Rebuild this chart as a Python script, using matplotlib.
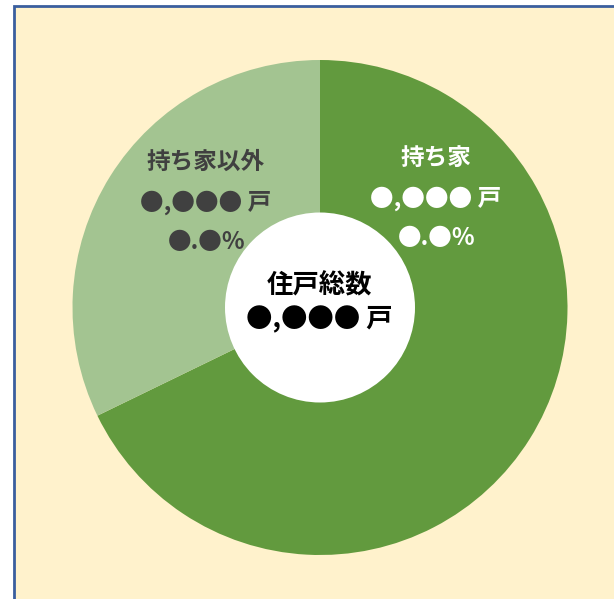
import matplotlib
matplotlib.use('Agg')
import matplotlib.pyplot as plt
from matplotlib.patches import Circle, Rectangle

plt.rcParams['font.family'] = ['Noto Sans CJK JP', 'DejaVu Sans']

# 持ち家 / 持ち家以外 (share)
labels = ['持ち家', '持ち家以外']
values = [67.8, 32.2]
counts = ['●,●●● 戸', '●,●●● 戸']
shares = ['●.●%', '●.●%']
total_label = '住戸総数'
total_count = '●,●●● 戸'

colors = ['#629A3E', '#A3C491']
text_colors = ['white', '#404040']

W, H = 614, 599
fig = plt.figure(figsize=(W / 100, H / 100), dpi=100)
fig.patch.set_facecolor('white')
ax = fig.add_axes([0, 0, 1, 1])

# panel background with blue frame (runs off the right and bottom edges)
ax.add_patch(Rectangle((14, -20), W + 20, H - 6 + 20, facecolor='#FFF2CC',
                       edgecolor='#3A5E9E', linewidth=2))

cx, cy, r = 320, H - 307.5, 247.5
ax.pie(values, colors=colors, startangle=90, counterclock=False,
       center=(cx, cy), radius=r, frame=True,
       wedgeprops=dict(linewidth=0))
ax.set_xlim(0, W)
ax.set_ylim(0, H)
ax.set_aspect('equal')
ax.axis('off')
ax.add_patch(Circle((cx, cy), 95, facecolor='white', edgecolor='none'))

# wedge labels
pos = [(436, 158), (206, 162)]
for i, (x, y) in enumerate(pos):
    ax.text(x, H - y, labels[i], ha='center', va='center', fontsize=17,
            fontweight='bold', color=text_colors[i])
    ax.text(x, H - y - 41, counts[i], ha='center', va='center', fontsize=17,
            fontweight='bold', color=text_colors[i])
    ax.text(x + 1, H - y - 80, shares[i], ha='center', va='center', fontsize=17,
            fontweight='bold', color=text_colors[i])

ax.text(cx - 1, H - 286, total_label, ha='center', va='center', fontsize=19,
        fontweight='bold', color='black')
ax.text(cx - 1, H - 320, total_count, ha='center', va='center', fontsize=19,
        fontweight='bold', color='black')

plt.savefig('out.png', dpi=100)
